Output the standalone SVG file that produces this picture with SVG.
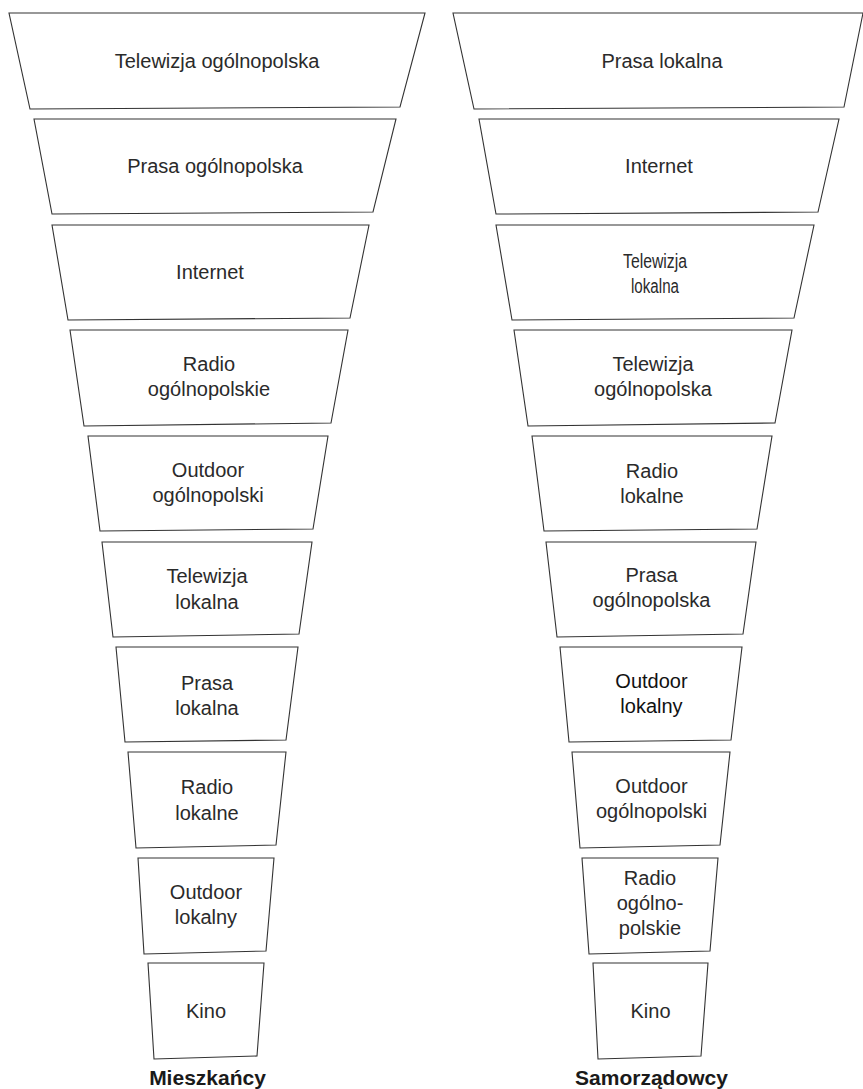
<svg xmlns="http://www.w3.org/2000/svg" width="863" height="1089" viewBox="0 0 863 1089">
<style>
.n{fill:#fff;stroke:#333;stroke-width:1.1}
.t{font-family:"Liberation Sans",Arial,sans-serif;font-size:20px;fill:#2a2a2a;text-anchor:middle}
.h{font-family:"Liberation Sans",Arial,sans-serif;font-size:21px;font-weight:bold;fill:#1a1a1a;text-anchor:middle}
</style>
<rect width="863" height="1089" fill="#fff"/>
<g id="connectors"></g>
<g id="mieszkancy">
<g id="L1"><polygon class="n" points="9,13 425,13 400,107 30,109"/><text class="t" x="217" y="68">Telewizja ogólnopolska</text></g>
<g id="L2"><polygon class="n" points="34,119 396,119 373,212 52,214"/><text class="t" x="215" y="173">Prasa ogólnopolska</text></g>
<g id="L3"><polygon class="n" points="52,225 369,225 350,318 68,320"/><text class="t" x="210" y="279">Internet</text></g>
<g id="L4"><polygon class="n" points="70,330 348,330 331,423 84,426"/><text class="t" x="209" y="371">Radio</text><text class="t" x="209" y="396">ogólnopolskie</text></g>
<g id="L5"><polygon class="n" points="88,436 328,436 313,529 100,531"/><text class="t" x="208" y="477">Outdoor</text><text class="t" x="208" y="502">ogólnopolski</text></g>
<g id="L6"><polygon class="n" points="102,542 312,542 299,634 113,637"/><text class="t" x="207" y="583">Telewizja</text><text class="t" x="207" y="609">lokalna</text></g>
<g id="L7"><polygon class="n" points="116,647 298,647 286,740 125,742"/><text class="t" x="207" y="690">Prasa</text><text class="t" x="207" y="715">lokalna</text></g>
<g id="L8"><polygon class="n" points="128,752 286,752 276,845 136,848"/><text class="t" x="207" y="794">Radio</text><text class="t" x="207" y="820">lokalne</text></g>
<g id="L9"><polygon class="n" points="138,858 274,858 266,951 144,954"/><text class="t" x="206" y="899">Outdoor</text><text class="t" x="206" y="924">lokalny</text></g>
<g id="L10"><polygon class="n" points="148,963 264,963 257,1056 154,1059"/><text class="t" x="206" y="1018">Kino</text></g>
<text class="h" x="207.5" y="1085">Mieszkańcy</text>
</g>
<g id="samorzadowcy">
<g id="R1"><polygon class="n" points="453,13 863,13 844,107 474,109"/><text class="t" x="662" y="68">Prasa lokalna</text></g>
<g id="R2"><polygon class="n" points="479,119 839,119 818,212 496,214"/><text class="t" x="659" y="173">Internet</text></g>
<g id="R3"><polygon class="n" points="496,225 814,225 794,318 512,320"/><text class="t" x="655" y="268" textLength="64" lengthAdjust="spacingAndGlyphs">Telewizja</text><text class="t" x="655" y="293" textLength="48" lengthAdjust="spacingAndGlyphs">lokalna</text></g>
<g id="R4"><polygon class="n" points="514,330 792,330 775,423 528,426"/><text class="t" x="653" y="371">Telewizja</text><text class="t" x="653" y="396">ogólnopolska</text></g>
<g id="R5"><polygon class="n" points="532,436 772,436 757,529 544,531"/><text class="t" x="652" y="478">Radio</text><text class="t" x="652" y="503">lokalne</text></g>
<g id="R6"><polygon class="n" points="546,542 756,542 743,634 557,637"/><text class="t" x="651.5" y="582">Prasa</text><text class="t" x="651.5" y="607">ogólnopolska</text></g>
<g id="R7"><polygon class="n" points="560,647 742,647 731,740 569,742"/><text class="t" x="651.5" y="688" style="fill:#111">Outdoor</text><text class="t" x="651.5" y="713" style="fill:#111">lokalny</text></g>
<g id="R8"><polygon class="n" points="572,752 730,752 720,845 580,848"/><text class="t" x="651.5" y="793">Outdoor</text><text class="t" x="651.5" y="818">ogólnopolski</text></g>
<g id="R9"><polygon class="n" points="582,858 718,858 710,951 589,954"/><text class="t" x="650" y="885">Radio</text><text class="t" x="650" y="910">ogólno-</text><text class="t" x="650" y="935">polskie</text></g>
<g id="R10"><polygon class="n" points="593,963 708,963 701,1056 598,1059"/><text class="t" x="650.5" y="1018">Kino</text></g>
<text class="h" x="651.5" y="1085">Samorządowcy</text>
</g>
</svg>
